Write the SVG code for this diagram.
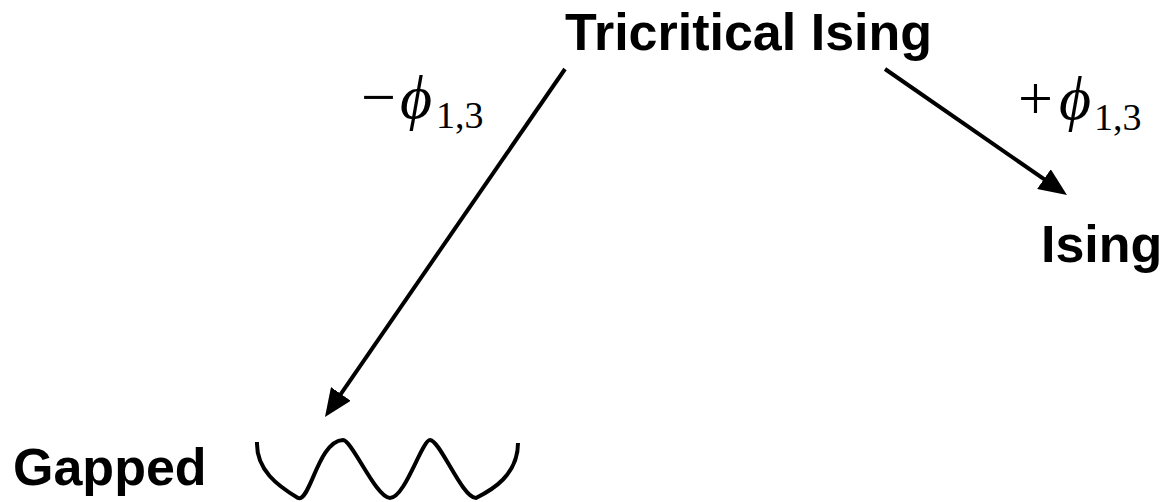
<svg xmlns="http://www.w3.org/2000/svg" width="1167" height="502" viewBox="0 0 1167 502">
<style>
.lbl{font-family:"Liberation Sans",Arial,sans-serif;font-weight:bold;font-size:52px;fill:#000}
.math{font-family:"Liberation Serif","Times New Roman",serif;font-size:62px;fill:#000}
.sub{font-size:38px;font-style:normal}
.conn{stroke:#000;stroke-width:4;fill:none}
</style>
<defs>
<marker id="ah" markerUnits="userSpaceOnUse" markerWidth="28" markerHeight="24" viewBox="0 0 28 24" refX="16" refY="12" orient="auto">
<path d="M0,0 L28,12 L0,24 z" fill="#000"/>
</marker>
</defs>
<rect width="1167" height="502" fill="#fff"/>
<g id="tricritical-ising"><text class="lbl" x="565" y="50">Tricritical Ising</text></g>
<g id="ising"><text class="lbl" x="1041" y="262">Ising</text></g>
<g id="gapped">
<text class="lbl" x="13" y="485">Gapped</text>
<path class="conn" d="M257,442 C256,470 278,486 298,498 C310,503 318,441 343,440 C352,440 376,498 390,498 C405,498 422,440 430,440 C440,440 462,498 476,498 C492,490 518,475 518,443"/>
</g>
<g id="connectors">
<line class="conn" x1="565" y1="69" x2="331.8" y2="407.1" marker-end="url(#ah)"/>
<line class="conn" x1="885" y1="69" x2="1057.1" y2="188.2" marker-end="url(#ah)"/>
<text class="math" y="118"><tspan x="361">−</tspan><tspan x="400" font-style="italic">ϕ</tspan><tspan class="sub" x="436" y="128">1,3</tspan></text>
<text class="math" y="119"><tspan x="1018">+</tspan><tspan x="1059" font-style="italic">ϕ</tspan><tspan class="sub" x="1094" y="130">1,3</tspan></text>
</g>
</svg>
